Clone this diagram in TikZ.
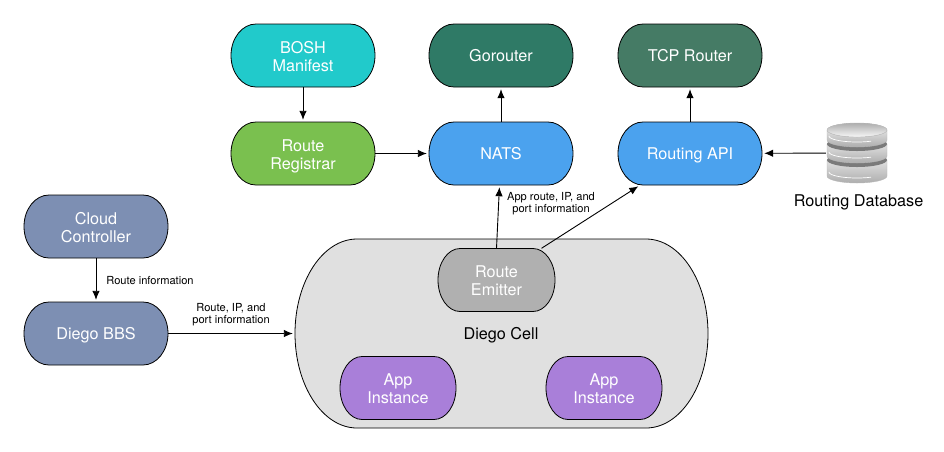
\documentclass[tikz,border=0pt]{standalone}
\usepackage{fontspec}
\setmainfont{TeX Gyre Heros}
\usetikzlibrary{arrows.meta}
\definecolor{boshcol}{HTML}{21CACB}
\definecolor{gorouter}{HTML}{2F7A66}
\definecolor{tcpcol}{HTML}{457B65}
\definecolor{registrar}{HTML}{7AC04F}
\definecolor{natscol}{HTML}{4BA2EE}
\definecolor{diegocol}{HTML}{7D8FB3}
\definecolor{emitter}{HTML}{B0B0B0}
\definecolor{cellcol}{HTML}{E0E0E0}
\definecolor{appcol}{HTML}{A97FD9}
% box with elliptical corners: name, x, y, width, height, corner, colour, text
\newcommand{\pillbox}[8]{
  \draw[line width=0.8pt,fill=#7] (#2-#4/2+#6,#3-#5/2) -- (#2+#4/2-#6,#3-#5/2)
    arc[start angle=-90,end angle=0,x radius=#6,y radius=#5/2]
    arc[start angle=0,end angle=90,x radius=#6,y radius=#5/2]
    -- (#2-#4/2+#6,#3+#5/2)
    arc[start angle=90,end angle=180,x radius=#6,y radius=#5/2]
    arc[start angle=180,end angle=270,x radius=#6,y radius=#5/2] -- cycle;
  \node[box,minimum width=#4 pt,minimum height=#5 pt] (#1) at (#2,#3) {#8};
}
% two lines of box text
\newcommand{\twolines}[2]{\rule{0pt}{17.4pt}#1\\#2}
\begin{document}
\begin{tikzpicture}[
    x = 1pt, y = -1pt,
    box/.style = {rectangle, align=center, text=white, inner sep=0pt,
                  font=\fontsize{16.2}{18}\selectfont,
                  execute at begin node={\rule{0pt}{15.4pt}},
                  execute at end node={\rule[-3.6pt]{0pt}{0pt}}},
    conn/.style = {-{Latex[length=9pt,width=7.5pt]}, color=black, line width=0.9pt, shorten >=2pt},
    el/.style = {align=center, inner sep=0pt, font=\fontsize{11.1}{12.5}\selectfont},
    side/.style = {draw=black!28, top color=black!12, bottom color=black!32},
                    ]
\useasboundingbox (0,0) rectangle (944,451);

\pillbox{bosh}{303}{55.5}{144}{63}{25}{boshcol}{\twolines{BOSH}{Manifest}}
\pillbox{gorouter}{501}{55.5}{144}{63}{25}{gorouter}{Gorouter}
\pillbox{tcp}{690}{55.5}{144}{63}{25}{tcpcol}{TCP Router}
\pillbox{registrar}{303}{153.5}{144}{63}{25}{registrar}{\twolines{Route}{Registrar}}
\pillbox{nats}{501}{153.5}{144}{63}{25}{natscol}{NATS}
\pillbox{api}{690}{153.5}{144}{63}{25}{natscol}{Routing API}
\pillbox{cc}{96}{226.5}{144}{63}{25}{diegocol}{\twolines{Cloud}{Controller}}
\pillbox{bbs}{96}{333.5}{144}{63}{25}{diegocol}{Diego BBS}

\pillbox{cell}{501.5}{333.5}{413}{189}{62}{cellcol}{}
\node[box,text=black] (celltext) at (501,334) {Diego Cell};
\pillbox{emitter}{496.5}{280}{117}{63}{22}{emitter}{\twolines{Route}{Emitter}}
\pillbox{app1}{398}{388}{116}{63}{22}{appcol}{\twolines{App}{Instance}}
\pillbox{app2}{604}{388}{116}{63}{22}{appcol}{\twolines{App}{Instance}}

% database icon
\node[minimum width=62pt,minimum height=62pt,inner sep=0pt] (db) at (857,153) {};
\foreach \t/\b in {160/176,144/156,130/140} {
  \path[side] (827,\t) -- (827,\b) arc[start angle=180,end angle=0,x radius=30,y radius=7] -- (887,\t) -- cycle;
  \draw[white,line width=0.7pt] (829,\b-4) arc[start angle=180,end angle=60,x radius=28,y radius=6];
  \fill[black!52] (857,\t) ellipse[x radius=30,y radius=7];
}
\path[draw=black!25,top color=black!32,bottom color=black!3] (857,130) ellipse[x radius=30,y radius=7];
\node[box,text=black] (dblabel) at (858.5,200.5) {Routing Database};

\path [conn] (bosh) edge (registrar);
\path [conn] (registrar) edge (nats);
\path [conn] (nats) edge (gorouter);
\path [conn] (api) edge (tcp);
\path [conn] (db) edge (api);
\path [conn] (cc) edge (bbs);
\path [conn] (bbs) edge (cell);
\path [conn] (emitter.north) edge ([xshift=-1.5pt]nats.south);
\path [conn] ([xshift=45pt]emitter.north) edge ([xshift=-50pt]api.south);

\node[el] (lblapp) at (551,203.5) {App route, IP, and\\port information};
\node[el] (lblcc) at (150,280.5) {Route information};
\node[el] (lblbbs) at (231,314.5) {Route, IP, and\\port information};

\end{tikzpicture}
\end{document}
